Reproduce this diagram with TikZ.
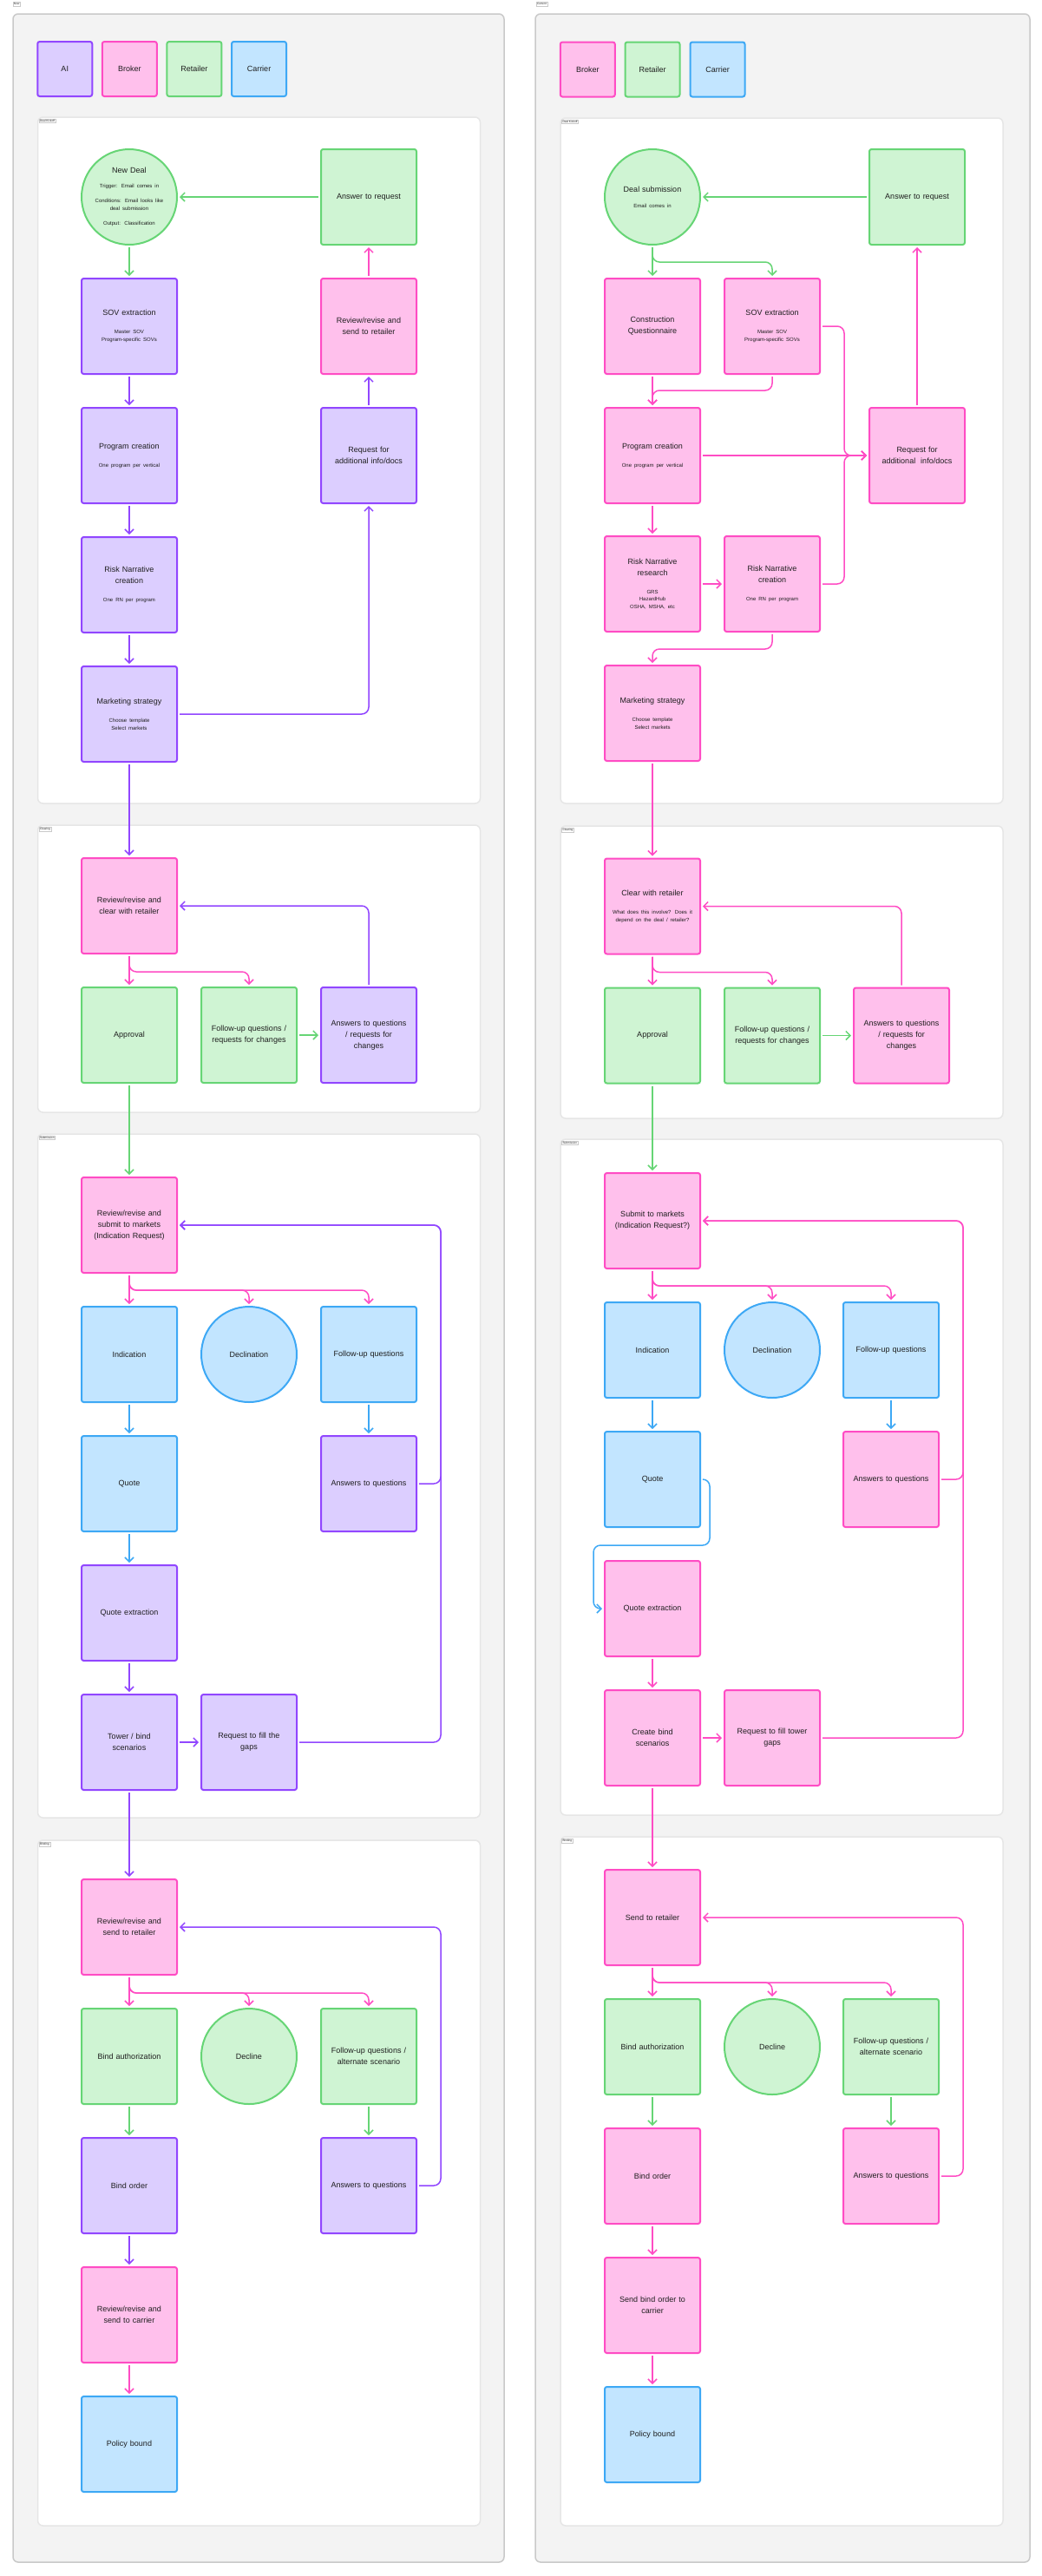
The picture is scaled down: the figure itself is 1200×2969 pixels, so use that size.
\documentclass[tikz,border=0pt]{standalone}
\usepackage{fontspec}
\setmainfont{Liberation Sans}
\usetikzlibrary{arrows.meta,calc}
\definecolor{aiF}{HTML}{DCCEFF}
\definecolor{aiD}{HTML}{9146FF}
\definecolor{brF}{HTML}{FFC0EC}
\definecolor{brD}{HTML}{FF4CC4}
\definecolor{rtF}{HTML}{CFF4D3}
\definecolor{rtD}{HTML}{66D575}
\definecolor{crF}{HTML}{C2E5FF}
\definecolor{crD}{HTML}{3DA8F5}
\definecolor{txt}{HTML}{1E1E1E}
\definecolor{frameF}{HTML}{F3F3F3}
\definecolor{frameD}{HTML}{C9C9C9}
\definecolor{secD}{HTML}{E6E6E6}
\newcommand{\sbt}[2][12.5pt]{\par\vspace{#1}{\fontsize{6}{8.7}\selectfont #2\par}}
\tikzset{
  nbox/.style={draw, line width=2pt, rounded corners=2.5pt, minimum width=110pt, minimum height=110pt,
    inner sep=0pt, text width=104pt, align=center, font=\fontsize{9}{13}\selectfont, text=txt},
  ncirc/.style={circle, draw, line width=2pt, minimum size=110pt, inner sep=0pt, text width=80pt,
    align=center, font=\fontsize{9}{13}\selectfont, text=txt},
  leg/.style={draw, line width=2pt, rounded corners=2.5pt, minimum width=63pt, minimum height=63pt,
    inner sep=0pt, align=center, font=\fontsize{9}{13}\selectfont, text=txt},
  fAI/.style={fill=aiF, draw=aiD},
  fBR/.style={fill=brF, draw=brD},
  fRT/.style={fill=rtF, draw=rtD},
  fCR/.style={fill=crF, draw=crD},
  outerframe/.style={fill=frameF, draw=frameD, line width=1.5pt, rounded corners=6pt},
  secframe/.style={fill=white, draw=secD, line width=1.5pt, rounded corners=6pt},
  lbl/.style={draw=frameD, fill=white, line width=0.6pt, inner sep=1.2pt, font=\fontsize{3.2}{4}\selectfont, text=txt, anchor=north west},
  cn/.style={line width=1.5pt, -{Straight Barb[length=5pt,width=10pt]}, rounded corners=8pt, shorten <=2pt, shorten >=2pt},
  cpu/.style={cn, draw=aiD},
  cpk/.style={cn, draw=brD},
  cgr/.style={cn, draw=rtD},
  cbl/.style={cn, draw=crD}
}
\begin{document}
\begin{tikzpicture}[x=1pt, y=-1pt]
\useasboundingbox (0,0) rectangle (1200,2969);
\fill[white] (0,0) rectangle (1200,2969);

% ===== frames =====
\draw[outerframe] (15,16) rectangle (581,2953);
\draw[outerframe] (617,16) rectangle (1187,2953);
\node[lbl] (lblNow) at (14.5,2) {Now};
\node[lbl] (lblCur) at (617.5,2) {Current};

\draw[secframe] (43.5,135) rectangle (553.5,926);
\draw[secframe] (43.5,951) rectangle (553.5,1282);
\draw[secframe] (43.5,1307) rectangle (553.5,2095);
\draw[secframe] (43.5,2121) rectangle (553.5,2911);
\node[lbl] (lblLdk) at (44.5,136.5) {Deal Kickoff};
\node[lbl] (lblLcl) at (44.5,952.5) {Clearing};
\node[lbl] (lblLsu) at (44.5,1308.5) {Submission};
\node[lbl] (lblLbi) at (44.5,2122.5) {Binding};

\draw[secframe] (646,136) rectangle (1156,926);
\draw[secframe] (646,952) rectangle (1156,1289);
\draw[secframe] (646,1313) rectangle (1156,2092);
\draw[secframe] (646,2117) rectangle (1156,2911);
\node[lbl] (lblRdk) at (647,137.5) {Deal Kickoff};
\node[lbl] (lblRcl) at (647,953.5) {Clearing};
\node[lbl] (lblRsu) at (647,1314.5) {Submission};
\node[lbl] (lblRbi) at (647,2118.5) {Binding};

% ===== legends =====
\node[leg,fAI] (legAI) at (74.75,79.5) {AI};
\node[leg,fBR] (legBR) at (149.3,79.5) {Broker};
\node[leg,fRT] (legRT) at (223.9,79.5) {Retailer};
\node[leg,fCR] (legCR) at (298.5,79.5) {Carrier};
\node[leg,fBR] (legBR2) at (677.3,80) {Broker};
\node[leg,fRT] (legRT2) at (752,80) {Retailer};
\node[leg,fCR] (legCR2) at (827,80) {Carrier};

\coordinate (lR) at (508,0);
\coordinate (rR) at (1110,0);
\coordinate (jX) at (973,0);
\coordinate (qX1) at (818,0);
\coordinate (qX2) at (684,0);

% ===== LEFT: Deal Kickoff =====
\node[ncirc,fRT] (Lnd) at (149,227) {New Deal\sbt[8.6pt]{Trigger: Email comes in}\sbt[8.3pt]{Conditions: Email looks like\\deal submission}\sbt[8.3pt]{Output: Classification}};
\node[nbox,fRT] (Lans) at (425,227) {Answer to request};
\node[nbox,fAI] (Lsov) at (149,376) {SOV extraction\sbt{Master SOV\\Program-specific SOVs}};
\node[nbox,fBR] (Lrev) at (425,376) {Review/revise and\\send to retailer};
\node[nbox,fAI] (Lprog) at (149,525) {Program creation\sbt{One program per vertical}};
\node[nbox,fAI] (Lreq) at (425,525) {Request for\\additional info/docs};
\node[nbox,fAI] (Lrisk) at (149,674) {Risk Narrative\\creation\sbt{One RN per program}};
\node[nbox,fAI] (Lmkt) at (149,823) {Marketing strategy\sbt{Choose template\\Select markets}};

% ===== LEFT: Clearing =====
\node[nbox,fBR] (Lclr) at (149,1044) {Review/revise and\\clear with retailer};
\node[nbox,fRT] (Lappr) at (149,1193) {Approval};
\node[nbox,fRT] (Lfu) at (287,1193) {Follow-up questions /\\requests for changes};
\node[nbox,fAI] (Laq) at (425,1193) {Answers to questions\\/ requests for\\changes};

% ===== LEFT: Submission =====
\node[nbox,fBR] (Lsub) at (149,1412) {Review/revise and\\submit to markets\\(Indication Request)};
\node[nbox,fCR] (Lind) at (149,1561) {Indication};
\node[ncirc,fCR] (Ldecl) at (287,1561) {Declination};
\node[nbox,fCR] (Lfuq) at (425,1561) {Follow-up questions};
\node[nbox,fCR] (Lquote) at (149,1710) {Quote};
\node[nbox,fAI] (Laq2) at (425,1710) {Answers to questions};
\node[nbox,fAI] (Lqext) at (149,1859) {Quote extraction};
\node[nbox,fAI] (Ltower) at (149,2008) {Tower / bind\\scenarios};
\node[nbox,fAI] (Lgaps) at (287,2008) {Request to fill the\\gaps};

% ===== LEFT: Binding =====
\node[nbox,fBR] (Lbrev) at (149,2221) {Review/revise and\\send to retailer};
\node[nbox,fRT] (Lbauth) at (149,2370) {Bind authorization};
\node[ncirc,fRT] (Ldec) at (287,2370) {Decline};
\node[nbox,fRT] (Lbfu) at (425,2370) {Follow-up questions /\\alternate scenario};
\node[nbox,fAI] (Lbord) at (149,2519) {Bind order};
\node[nbox,fAI] (Lbans) at (425,2519) {Answers to questions};
\node[nbox,fBR] (Lrcar) at (149,2668) {Review/revise and\\send to carrier};
\node[nbox,fCR] (Lpol) at (149,2817) {Policy bound};

% ===== RIGHT: Deal Kickoff =====
\node[ncirc,fRT] (Rds) at (752,227) {Deal submission\sbt[9pt]{Email comes in}};
\node[nbox,fRT] (Rans) at (1057,227) {Answer to request};
\node[nbox,fBR] (Rcq) at (752,376) {Construction\\Questionnaire};
\node[nbox,fBR] (Rsov) at (890,376) {SOV extraction\sbt{Master SOV\\Program-specific SOVs}};
\node[nbox,fBR] (Rprog) at (752,525) {Program creation\sbt{One program per vertical}};
\node[nbox,fBR] (Rreq) at (1057,525) {Request for\\additional~ info/docs};
\node[nbox,fBR] (Rrr) at (752,673) {Risk Narrative\\research\sbt{GRS\\HazardHub\\OSHA, MSHA, etc}};
\node[nbox,fBR] (Rrc) at (890,673) {Risk Narrative\\creation\sbt{One RN per program}};
\node[nbox,fBR] (Rmkt) at (752,822) {Marketing strategy\sbt{Choose template\\Select markets}};

% ===== RIGHT: Clearing =====
\node[nbox,fBR] (Rclr) at (752,1044.5) {Clear with retailer\sbt{What does this involve? Does it\\depend on the deal / retailer?}};
\node[nbox,fRT] (Rappr) at (752,1193.5) {Approval};
\node[nbox,fRT] (Rfu) at (890,1193.5) {Follow-up questions /\\requests for changes};
\node[nbox,fBR] (Raq) at (1039,1193.5) {Answers to questions\\/ requests for\\changes};

% ===== RIGHT: Submission =====
\node[nbox,fBR] (Rsub) at (752,1407) {Submit to markets\\(Indication Request?)};
\node[nbox,fCR] (Rind) at (752,1556) {Indication};
\node[ncirc,fCR] (Rdecl) at (890,1556) {Declination};
\node[nbox,fCR] (Rfuq) at (1027,1556) {Follow-up questions};
\node[nbox,fCR] (Rquote) at (752,1705) {Quote};
\node[nbox,fBR] (Raq2) at (1027,1705) {Answers to questions};
\node[nbox,fBR] (Rqext) at (752,1854) {Quote extraction};
\node[nbox,fBR] (Rcbs) at (752,2003) {Create bind\\scenarios};
\node[nbox,fBR] (Rgaps) at (890,2003) {Request to fill tower\\gaps};

% ===== RIGHT: Binding =====
\node[nbox,fBR] (Rsend) at (752,2210) {Send to retailer};
\node[nbox,fRT] (Rbauth) at (752,2359) {Bind authorization};
\node[ncirc,fRT] (Rdec) at (890,2359) {Decline};
\node[nbox,fRT] (Rbfu) at (1027,2359) {Follow-up questions /\\alternate scenario};
\node[nbox,fBR] (Rbord) at (752,2508) {Bind order};
\node[nbox,fBR] (Rbans) at (1027,2508) {Answers to questions};
\node[nbox,fBR] (Rsbo) at (752,2657) {Send bind order to\\carrier};
\node[nbox,fCR] (Rpol) at (752,2806) {Policy bound};

% ===== LEFT connectors =====
\draw[cgr] (Lans.west) -- (Lnd.east);
\draw[cgr] (Lnd.south) -- (Lsov.north);
\draw[cpu] (Lsov.south) -- (Lprog.north);
\draw[cpu] (Lprog.south) -- (Lrisk.north);
\draw[cpu] (Lrisk.south) -- (Lmkt.north);
\draw[cpk] (Lrev.north) -- (Lans.south);
\draw[cpu] (Lreq.north) -- (Lrev.south);
\draw[cpu] (Lmkt.east) -- (Lmkt.east -| Lreq.south) -- (Lreq.south);
\draw[cpu] (Lmkt.south) -- (Lclr.north);

\draw[cpk] (Lclr.south) -- (Lappr.north);
\draw[cpk] (Lclr.south) -- ++(0,20) -| (Lfu.north);
\draw[cgr] (Lfu.east) -- (Laq.west);
\draw[cpu] (Laq.north) -- (Laq.north |- Lclr.east) -- (Lclr.east);
\draw[cgr] (Lappr.south) -- (Lsub.north);

\draw[cpk] (Lsub.south) -- (Lind.north);
\draw[cpk] (Lsub.south) -- ++(0,19) -| (Ldecl.north);
\draw[cpk] (Lsub.south) -- ++(0,19) -| (Lfuq.north);
\draw[cbl] (Lind.south) -- (Lquote.north);
\draw[cbl] (Lfuq.south) -- (Laq2.north);
\draw[cbl] (Lquote.south) -- (Lqext.north);
\draw[cpu] (Lqext.south) -- (Ltower.north);
\draw[cpu] (Ltower.east) -- (Lgaps.west);
\draw[cpu] (Lgaps.east) -- (Lgaps.east -| lR) -- (lR |- Lsub.east) -- (Lsub.east);
\draw[cpu] (Laq2.east) -- (Laq2.east -| lR) -- (lR |- Lsub.east) -- (Lsub.east);
\draw[cpu] (Ltower.south) -- (Lbrev.north);

\draw[cpk] (Lbrev.south) -- (Lbauth.north);
\draw[cpk] (Lbrev.south) -- ++(0,20) -| (Ldec.north);
\draw[cpk] (Lbrev.south) -- ++(0,20) -| (Lbfu.north);
\draw[cgr] (Lbauth.south) -- (Lbord.north);
\draw[cgr] (Lbfu.south) -- (Lbans.north);
\draw[cpu] (Lbans.east) -- (Lbans.east -| lR) -- (lR |- Lbrev.east) -- (Lbrev.east);
\draw[cpu] (Lbord.south) -- (Lrcar.north);
\draw[cpk] (Lrcar.south) -- (Lpol.north);

% ===== RIGHT connectors =====
\draw[cgr] (Rans.west) -- (Rds.east);
\draw[cgr] (Rds.south) -- (Rcq.north);
\draw[cgr] (Rds.south) -- ++(0,19) -| (Rsov.north);
\draw[cpk] (Rcq.south) -- (Rprog.north);
\draw[cpk] (Rsov.south) -- ++(0,18) -| (Rprog.north);
\draw[cpk] (Rsov.east) -- (Rsov.east -| jX) -- (jX |- Rreq.west) -- (Rreq.west);
\draw[cpk] (Rprog.east) -- (Rreq.west);
\draw[cpk] (Rrc.east) -- (Rrc.east -| jX) -- (jX |- Rreq.west) -- (Rreq.west);
\draw[cpk] (Rreq.north) -- (Rans.south);
\draw[cpk] (Rprog.south) -- (Rrr.north);
\draw[cpk] (Rrr.east) -- (Rrc.west);
\draw[cpk] (Rrc.south) -- ++(0,19) -| (Rmkt.north);
\draw[cpk] (Rmkt.south) -- (Rclr.north);

\draw[cpk] (Rclr.south) -- (Rappr.north);
\draw[cpk] (Rclr.south) -- ++(0,20) -| (Rfu.north);
\draw[cgr] (Rfu.east) -- (Raq.west);
\draw[cpk] (Raq.north) -- (Raq.north |- Rclr.east) -- (Rclr.east);
\draw[cgr] (Rappr.south) -- (Rsub.north);

\draw[cpk] (Rsub.south) -- (Rind.north);
\draw[cpk] (Rsub.south) -- ++(0,19) -| (Rdecl.north);
\draw[cpk] (Rsub.south) -- ++(0,19) -| (Rfuq.north);
\draw[cbl] (Rind.south) -- (Rquote.north);
\draw[cbl] (Rfuq.south) -- (Raq2.north);
\draw[cbl] (Rquote.east) -- (Rquote.east -| qX1) -- ($(qX1 |- Rquote.south)+(0,20)$) -- ($(qX2 |- Rquote.south)+(0,20)$) -- (qX2 |- Rqext.west) -- (Rqext.west);
\draw[cpk] (Rqext.south) -- (Rcbs.north);
\draw[cpk] (Rcbs.east) -- (Rgaps.west);
\draw[cpk] (Rgaps.east) -- (Rgaps.east -| rR) -- (rR |- Rsub.east) -- (Rsub.east);
\draw[cpk] (Raq2.east) -- (Raq2.east -| rR) -- (rR |- Rsub.east) -- (Rsub.east);
\draw[cpk] (Rcbs.south) -- (Rsend.north);

\draw[cpk] (Rsend.south) -- (Rbauth.north);
\draw[cpk] (Rsend.south) -- ++(0,19) -| (Rdec.north);
\draw[cpk] (Rsend.south) -- ++(0,19) -| (Rbfu.north);
\draw[cgr] (Rbauth.south) -- (Rbord.north);
\draw[cgr] (Rbfu.south) -- (Rbans.north);
\draw[cpk] (Rbans.east) -- (Rbans.east -| rR) -- (rR |- Rsend.east) -- (Rsend.east);
\draw[cpk] (Rbord.south) -- (Rsbo.north);
\draw[cpk] (Rsbo.south) -- (Rpol.north);
\end{tikzpicture}
\end{document}
